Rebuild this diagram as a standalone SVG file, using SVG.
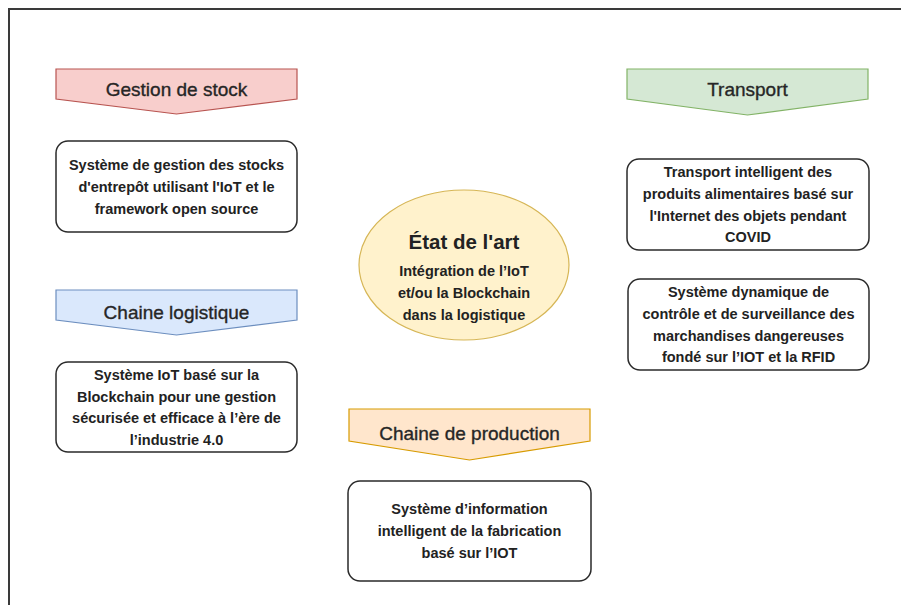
<svg xmlns="http://www.w3.org/2000/svg" width="901" height="605" viewBox="0 0 901 605">
  <style>
    .frame { fill: none; stroke: #3a3a3a; stroke-width: 2; }
    .banner-text { font-family: "Liberation Sans", Arial, sans-serif; font-size: 19px; fill: #262626; stroke: #262626; stroke-width: 0.35; text-anchor: middle; dominant-baseline: central; }
    .box { fill: #ffffff; stroke: #2a2a2a; stroke-width: 1.5; }
    .box-text { font-family: "Liberation Sans", Arial, sans-serif; font-size: 14.5px; font-weight: bold; fill: #222222; text-anchor: middle; dominant-baseline: central; }
    .title-text { font-family: "Liberation Sans", Arial, sans-serif; font-size: 20.5px; font-weight: bold; fill: #222222; text-anchor: middle; dominant-baseline: central; }
    .red { fill: #f8cecc; stroke: #b85450; stroke-width: 1.2; }
    .green { fill: #d5e8d4; stroke: #82b366; stroke-width: 1.2; }
    .blue { fill: #dae8fc; stroke: #6c8ebf; stroke-width: 1.2; }
    .orange { fill: #ffe6cc; stroke: #d79b00; stroke-width: 1.2; }
    .yellow { fill: #fff2cc; stroke: #d6b656; stroke-width: 1.2; }
  </style>

  <rect width="901" height="605" fill="#ffffff"/>
  <path class="frame" d="M9,605 V9 H901"/>

  <g id="connectors"/>

  <!-- central topic -->
  <g id="etat-de-lart">
    <ellipse class="yellow" cx="464" cy="265" rx="105" ry="75"/>
    <text class="title-text" x="464" y="241">État de l'art</text>
    <text class="box-text" x="464" y="271">Intégration de l’IoT</text>
    <text class="box-text" x="464" y="293">et/ou la Blockchain</text>
    <text class="box-text" x="464" y="315">dans la logistique</text>
  </g>

  <!-- Gestion de stock -->
  <g id="gestion-stock">
    <path class="red" d="M56,69 H297 V99 L176.5,114 L56,99 Z"/>
    <text class="banner-text" x="176.5" y="89">Gestion de stock</text>
  </g>
  <g id="gestion-stock-item">
    <rect class="box" x="56" y="141" width="241" height="91" rx="12"/>
    <text class="box-text" x="176.5" y="164.5">Système de gestion des stocks</text>
    <text class="box-text" x="176.5" y="186.5">d'entrepôt utilisant l'IoT et le</text>
    <text class="box-text" x="176.5" y="208.5">framework open source</text>
  </g>

  <!-- Chaine logistique -->
  <g id="chaine-logistique">
    <path class="blue" d="M56,290 H297 V320 L176.5,335 L56,320 Z"/>
    <text class="banner-text" x="176.5" y="312">Chaine logistique</text>
  </g>
  <g id="chaine-logistique-item">
    <rect class="box" x="56" y="362" width="241" height="90" rx="12"/>
    <text class="box-text" x="176.5" y="375">Système IoT basé sur la</text>
    <text class="box-text" x="176.5" y="396.5">Blockchain pour une gestion</text>
    <text class="box-text" x="176.5" y="418">sécurisée et efficace à l’ère de</text>
    <text class="box-text" x="176.5" y="439.5">l’industrie 4.0</text>
  </g>

  <!-- Transport -->
  <g id="transport">
    <path class="green" d="M627,69 H868 V99 L747.5,115 L627,99 Z"/>
    <text class="banner-text" x="747.5" y="89">Transport</text>
  </g>
  <g id="transport-item-1">
    <rect class="box" x="627" y="159" width="242" height="91" rx="12"/>
    <text class="box-text" x="748" y="172">Transport intelligent des</text>
    <text class="box-text" x="748" y="193.5">produits alimentaires basé sur</text>
    <text class="box-text" x="748" y="215.5">l'Internet des objets pendant</text>
    <text class="box-text" x="748" y="237">COVID</text>
  </g>
  <g id="transport-item-2">
    <rect class="box" x="628" y="279" width="241" height="91" rx="12"/>
    <text class="box-text" x="748.5" y="292">Système dynamique de</text>
    <text class="box-text" x="748.5" y="313.5">contrôle et de surveillance des</text>
    <text class="box-text" x="748.5" y="335.5">marchandises dangereuses</text>
    <text class="box-text" x="748.5" y="357">fondé sur l’IOT et la RFID</text>
  </g>

  <!-- Chaine de production -->
  <g id="chaine-production">
    <path class="orange" d="M349,409 H590 V441 L469.5,460 L349,441 Z"/>
    <text class="banner-text" x="469.5" y="433">Chaine de production</text>
  </g>
  <g id="chaine-production-item">
    <rect class="box" x="348" y="481" width="243" height="100" rx="12"/>
    <text class="box-text" x="469.5" y="509">Système d’information</text>
    <text class="box-text" x="469.5" y="531">intelligent de la fabrication</text>
    <text class="box-text" x="469.5" y="553">basé sur l’IOT</text>
  </g>
</svg>
